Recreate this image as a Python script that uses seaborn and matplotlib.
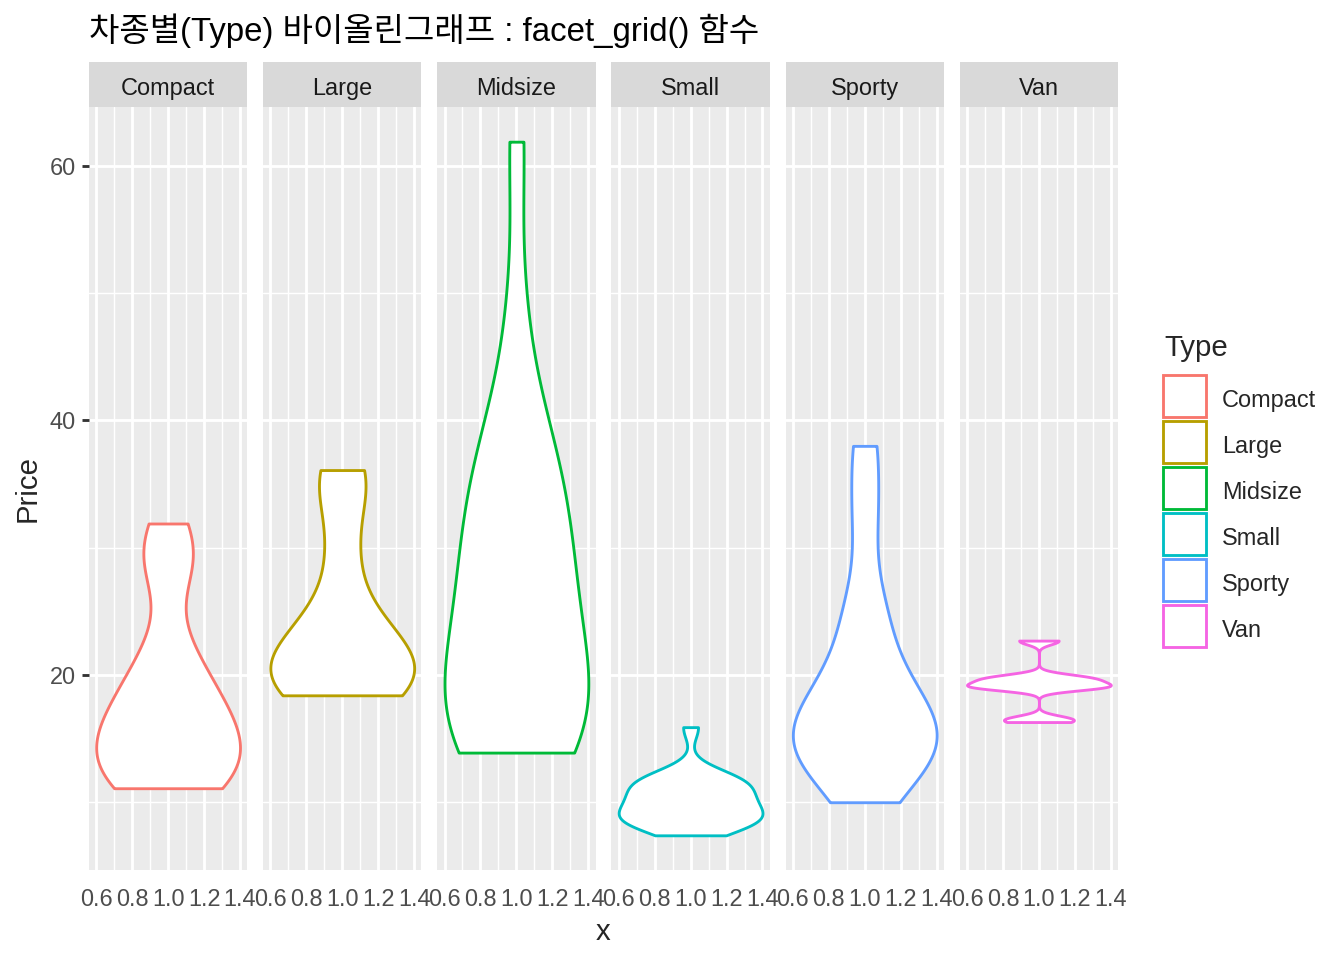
import numpy as np
import matplotlib
matplotlib.use("Agg")
import matplotlib.pyplot as plt
from matplotlib.patches import Patch, Rectangle
from matplotlib.transforms import ScaledTranslation
import seaborn as sns

# Cars93 prices by type
types = ["Compact", "Large", "Midsize", "Small", "Sporty", "Van"]
compact = [29.1, 13.4, 11.4, 15.8, 13.3, 11.3, 17.5, 16.5, 31.9, 15.7, 13.5, 11.1, 28.7, 19.5, 20.0, 22.7]
large = [20.8, 23.7, 34.7, 18.8, 18.4, 29.5, 19.3, 20.9, 36.1, 20.7, 24.4]
midsize = [33.9, 37.7, 30.0, 15.7, 26.3, 40.1, 15.9, 15.6, 20.2, 13.9, 47.9,
           28.0, 35.2, 34.3, 61.9, 14.9, 26.1, 21.5, 16.3, 18.5, 18.2, 26.7]
small = [15.9, 9.2, 11.3, 12.2, 7.4, 10.1, 8.4, 12.1, 8.0, 10.0, 8.3,
         11.6, 10.3, 11.8, 9.0, 11.1, 8.4, 10.9, 8.6, 9.8, 9.1]
sporty = [15.1, 38.0, 25.8, 15.9, 14.0, 12.5, 19.8, 10.0, 32.5, 14.1, 14.4, 17.7, 18.4, 23.3]
van = [16.3, 16.6, 19.0, 19.9, 19.1, 19.1, 19.5, 22.7, 19.7]
prices = [compact, large, midsize, small, sporty, van]
colors = ["#F8766D", "#B79F00", "#00BA38", "#00BFC4", "#619CFF", "#F564E3"]

x_ticks = [0.6, 0.8, 1.0, 1.2, 1.4]
x_minor = [0.7, 0.9, 1.1, 1.3]
y_ticks = [20, 40, 60]
y_minor = [10, 30, 50]

sns.set_theme(style="darkgrid")
plt.rcParams["font.family"] = ["Liberation Sans", "Noto Sans CJK KR"]

fig, axes = plt.subplots(1, 6, sharey=True, figsize=(7, 5), dpi=192)
fig.subplots_adjust(left=89 / 1344, right=1118 / 1344, top=1 - 107 / 960,
                    bottom=1 - 870 / 960, wspace=0.101)


def nrd0_factor(v):
    # R's bw.nrd0 expressed as a scipy kde factor
    v = np.asarray(v)
    sd = v.std(ddof=1)
    iqr = np.subtract(*np.percentile(v, [75, 25]))
    bw = 0.9 * min(sd, iqr / 1.34) * len(v) ** -0.2
    return bw / sd


all_vals = np.concatenate(prices)
ymin, ymax = all_vals.min(), all_vals.max()
pad = (ymax - ymin) * 0.05

for ax, t, vals, c in zip(axes, types, prices, colors):
    ax.set_facecolor("#EBEBEB")
    sns.violinplot(x=np.ones(len(vals)), y=vals, native_scale=True, orient="x",
                   cut=0, inner=None, density_norm="width", width=0.8,
                   bw_method=nrd0_factor(vals), gridsize=512, fill=True,
                   color="white", linecolor=c, linewidth=1.07, saturation=1,
                   ax=ax)
    ax.set_xlim(0.56, 1.44)
    ax.set_ylim(ymin - pad, ymax + pad)
    ax.set_xticks(x_ticks)
    ax.set_xticklabels([f"{v:.1f}" for v in x_ticks])
    ax.set_xticks(x_minor, minor=True)
    ax.set_yticks(y_ticks)
    ax.set_yticks(y_minor, minor=True)
    ax.grid(which="major", color="white", lw=1.07)
    ax.grid(which="minor", color="white", lw=0.53)
    ax.set_axisbelow(True)
    for s in ax.spines.values():
        s.set_visible(False)
    ax.tick_params(which="major", length=2.75, width=1.07, color="#333333",
                   labelsize=8.8, labelcolor="#4D4D4D", pad=2.2)
    ax.tick_params(axis="x", pad=4)
    ax.tick_params(which="minor", length=0)
    ax.tick_params(axis="y", left=(ax is axes[0]), labelleft=(ax is axes[0]))
    ax.set_xlabel("")
    ax.set_ylabel("")
    h = 45 / 763
    ax.add_patch(Rectangle((0, 1), 1, h, transform=ax.transAxes,
                           facecolor="#D9D9D9", edgecolor="none", clip_on=False))
    ax.text(0.5, 1 + h / 2 - 0.005, t, transform=ax.transAxes, ha="center",
            va="center", fontsize=8.8, color="#1A1A1A")

fig.text(89 / 1344, 1 - 31 / 960, "차종별(Type) 바이올린그래프 : facet_grid() 함수",
         fontsize=12.4, ha="left", va="center", color="black")
fig.text(28 / 1344, 1 - 489 / 960, "Price", rotation=90, fontsize=11,
         ha="center", va="center")
fig.text(603 / 1344, 1 - 932 / 960, "x", fontsize=11, ha="center", va="center")

fig.text(1164 / 1344, 1 - 348 / 960, "Type", fontsize=11, ha="left", va="center")
handles = [Patch(facecolor="white", edgecolor=c, linewidth=1.07) for c in colors]
leg = fig.legend(handles, types, loc="upper left",
                 bbox_to_anchor=(1163 / 1344, 1 - 375 / 960), frameon=False,
                 fontsize=8.8, handlelength=1.83,
                 handleheight=2.38, labelspacing=0.17, handletextpad=0.68,
                 borderpad=0, borderaxespad=0)
# nudge the labels down a little so they sit centred on the keys
shift = ScaledTranslation(0, -4 / 192, fig.dpi_scale_trans)
for txt in leg.get_texts():
    txt.set_transform(txt.get_transform() + shift)

fig.savefig("out.png", dpi=192, facecolor="white")
